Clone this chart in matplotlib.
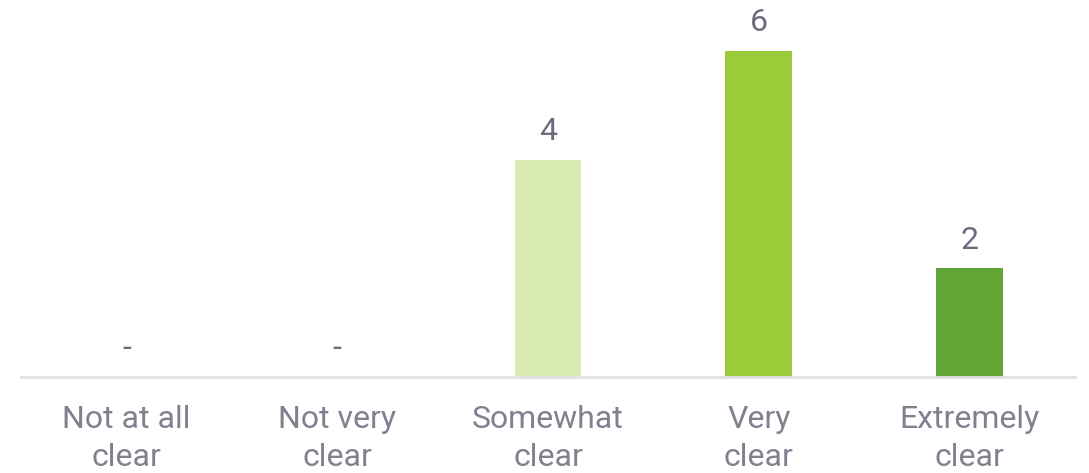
import matplotlib
matplotlib.use("Agg")
import matplotlib.pyplot as plt

categories = ["Not at all\nclear", "Not very\nclear", "Somewhat\nclear", "Very\nclear", "Extremely\nclear"]
values = [0, 0, 4, 6, 2]
colors = ["#d9eab0", "#d9eab0", "#d9eab0", "#9acb38", "#62a536"]

plt.rcParams['font.family'] = ['Roboto', 'DejaVu Sans']

fig = plt.figure(figsize=(10.89, 4.73), dpi=100)
ax = fig.add_axes([21/1089, (473-377)/473, 1054/1089, 377/473])

x = list(range(len(categories)))
bars = ax.bar(x, values, width=0.317, color=colors, zorder=2)
ax.set_xlim(-0.5, len(categories) - 0.5)
ax.set_ylim(0, 377/54.3)

for xi, v in zip(x, values):
    label = "-" if v == 0 else str(v)
    ax.annotate(label, (xi, v), xytext=(0, 10), textcoords="offset points",
                ha="center", va="bottom", fontsize=23, color="#6b6b80")

ax.set_xticks(x)
ax.set_xticklabels(categories, fontsize=23, color="#80808f", linespacing=1.42)
ax.tick_params(axis="x", length=0, pad=20)
ax.set_yticks([])
for s in ["top", "right", "left"]:
    ax.spines[s].set_visible(False)
ax.spines["bottom"].set_color("#e0e0e6")
ax.spines["bottom"].set_linewidth(2)

fig.savefig("out.png", dpi=100)
